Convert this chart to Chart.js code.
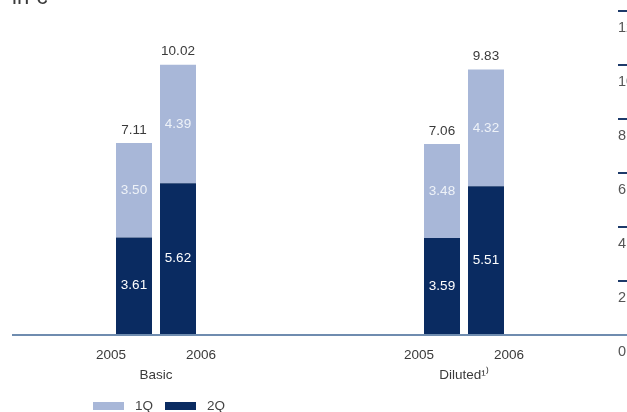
<!DOCTYPE html>
<html>
<head>
<meta charset="utf-8">
<script src="https://cdn.jsdelivr.net/npm/chart.js@4.4.1/dist/chart.umd.min.js"></script>
<style>
  html, body { margin: 0; padding: 0; background: #fff; }
  #wrap { position: relative; width: 627px; height: 412px; overflow: hidden; }
  #chart { position: absolute; left: 0; top: 0; }
  #legend {
    position: absolute; left: 93px; top: 398px;
    font: 13.5px "Liberation Sans", Arial, sans-serif; color: #444;
    display: flex; align-items: center;
  }
  #legend .item { display: flex; align-items: center; margin-right: 12px; }
  #legend .box { width: 31px; height: 8px; margin-right: 11px; }
</style>
</head>
<body>
<div id="wrap">
  <canvas id="chart" width="638" height="412" style="width:638px;height:412px"></canvas>
  <div id="legend"></div>
</div>
<script>
/* ===== data ===== */
const groups = ["Basic", "Diluted\u00B9\u207E"];
const years = ["2005", "2006"];
const q2_2005 = [3.61, 3.59];
const q1_2005 = [3.50, 3.48];
const q2_2006 = [5.62, 5.51];
const q1_2006 = [4.39, 4.32];
const total_2005 = [7.11, 7.06];
const total_2006 = [10.02, 9.83];
const yTicks = [0, 2, 4, 6, 8, 10, 12];

const LIGHT = "#a8b7d8";
const DARK = "#0a2b61";
const AXIS = "#6f8caf";
const TEXT = "#3a3a3a";
const FONT = "'Liberation Sans', Arial, sans-serif";

/* ===== labels, baseline, title ===== */
const textPlugin = {
  id: "textPlugin",
  afterDatasetsDraw(chart) {
    const ctx = chart.ctx;
    const xs = chart.scales.x;
    const ys = chart.scales.y;
    const zero = ys.getPixelForValue(0);
    ctx.save();

    // baseline
    ctx.strokeStyle = AXIS;
    ctx.lineWidth = 2;
    ctx.beginPath();
    ctx.moveTo(12, zero);
    ctx.lineTo(chart.chartArea.right, zero);
    ctx.stroke();

    ctx.font = "13.5px " + FONT;
    ctx.textAlign = "center";
    ctx.textBaseline = "middle";

    chart.data.datasets.forEach((ds, i) => {
      const meta = chart.getDatasetMeta(i);
      meta.data.forEach((bar, j) => {
        ctx.fillStyle = ds.textColor;
        ctx.fillText(ds.data[j].toFixed(2), bar.x, (bar.y + bar.base) / 2);
        if (ds.totals) {
          ctx.fillStyle = TEXT;
          ctx.fillText(ds.totals[j].toFixed(2), bar.x, bar.y - 13);
        }
        if (ds.year) {
          const c = xs.getPixelForValue(j);
          ctx.fillStyle = TEXT;
          ctx.fillText(ds.year, c + (bar.x - c) * 2.05, zero + 20);
        }
      });
    });

    // title (cut off at the top like the source)
    ctx.font = "22px " + FONT;
    ctx.textAlign = "left";
    ctx.textBaseline = "alphabetic";
    ctx.fillStyle = TEXT;
    ctx.fillText("in \u20AC", 12, 4);
    ctx.restore();
  },
};

const chart = new Chart(document.getElementById("chart"), {
  type: "bar",
  data: {
    labels: groups,
    datasets: [
      { label: "2Q", data: q2_2005, stack: "2005", backgroundColor: DARK, textColor: "#ffffff", year: years[0] },
      { label: "1Q", data: q1_2005, stack: "2005", backgroundColor: LIGHT, textColor: "#eef2f8", totals: total_2005 },
      { label: "2Q", data: q2_2006, stack: "2006", backgroundColor: DARK, textColor: "#ffffff", year: years[1] },
      { label: "1Q", data: q1_2006, stack: "2006", backgroundColor: LIGHT, textColor: "#eef2f8", totals: total_2006 },
    ],
  },
  options: {
    responsive: false,
    animation: false,
    devicePixelRatio: 1,
    categoryPercentage: 88 / 308,
    barPercentage: 36 / 44,
    layout: { padding: { left: 2, top: 11, right: 0, bottom: 0 } },
    scales: {
      x: {
        stacked: true,
        grid: { display: false, drawTicks: false },
        border: { display: false },
        ticks: { color: TEXT, font: { size: 13.5, family: FONT }, padding: 32, maxRotation: 0 },
        afterFit: (s) => { s.height = 77; },
      },
      y: {
        stacked: true,
        position: "right",
        min: 0,
        max: 12,
        afterBuildTicks: (s) => { s.ticks = yTicks.map((v) => ({ value: v })); },
        afterFit: (s) => { s.width = 20; },
        grid: {
          drawOnChartArea: false,
          drawTicks: true,
          tickLength: 10,
          lineWidth: 2,
          color: (c) => (c.tick && c.tick.value === 0 ? AXIS : "#1d3a6a"),
        },
        border: { display: false },
        ticks: {
          color: "#555",
          font: { size: 14.5, family: FONT },
          padding: -10,
          labelOffset: 17,
        },
      },
    },
    plugins: {
      legend: { display: false },
      tooltip: { enabled: false },
    },
  },
  plugins: [textPlugin],
});

// html legend from the first two datasets (2Q / 1Q), shown as 1Q then 2Q
const legendEl = document.getElementById("legend");
[chart.data.datasets[1], chart.data.datasets[0]].forEach((ds) => {
  const item = document.createElement("div");
  item.className = "item";
  item.innerHTML = `<span class="box" style="background:${ds.backgroundColor}"></span><span>${ds.label}</span>`;
  legendEl.appendChild(item);
});
</script>
</body>
</html>
